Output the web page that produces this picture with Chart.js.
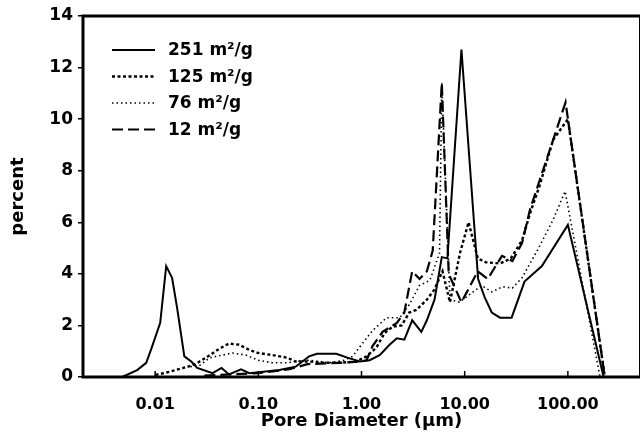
<!DOCTYPE html>
<html>
<head>
<meta charset="utf-8">
<script src="https://cdn.jsdelivr.net/npm/chart.js@4/dist/chart.umd.min.js"></script>
<style>
  body { margin: 0; background: #fff; }
  #wrap { width: 642px; height: 436px; position: relative; }
</style>
</head>
<body>
<div id="wrap"><canvas id="poreChart"></canvas></div>
<script>
// pore size distributions, x = pore diameter (um), y = percent
const seriesLabels = ['251 m\u00B2/g', '125 m\u00B2/g', '76 m\u00B2/g', '12 m\u00B2/g'];

const dia251 = [0.0048, 0.0067, 0.0082, 0.0092, 0.0112, 0.0128, 0.0146, 0.0163, 0.0192, 0.0224, 0.0256, 0.036, 0.044, 0.052, 0.068, 0.082, 0.16, 0.23, 0.31, 0.37, 0.57, 0.73, 0.96, 1.2, 1.5, 1.87, 2.2, 2.6, 3.1, 3.8, 4.3, 5.1, 6.0, 6.8, 9.3, 13.5, 15.6, 18.3, 22, 28.5, 38, 56, 100, 222];
const pct251 = [0, 0.27, 0.55, 1.1, 2.1, 4.3, 3.85, 2.7, 0.8, 0.6, 0.35, 0.15, 0.35, 0.1, 0.3, 0.15, 0.27, 0.4, 0.8, 0.9, 0.9, 0.75, 0.6, 0.65, 0.85, 1.25, 1.5, 1.45, 2.2, 1.75, 2.2, 3.0, 4.65, 4.6, 12.7, 3.8, 3.1, 2.5, 2.3, 2.3, 3.7, 4.3, 5.9, 0];

const dia125 = [0.0101, 0.0137, 0.023, 0.027, 0.034, 0.042, 0.052, 0.065, 0.082, 0.1, 0.137, 0.19, 0.23, 0.31, 0.42, 0.61, 0.89, 1.12, 1.4, 1.67, 2.0, 2.45, 2.9, 3.4, 4.3, 5.1, 6.1, 7.2, 9.0, 10.9, 13.4, 16, 22, 28, 36, 43, 53, 72, 100, 228];
const pct125 = [0.08, 0.2, 0.45, 0.6, 0.85, 1.1, 1.3, 1.25, 1.05, 0.93, 0.85, 0.75, 0.6, 0.6, 0.55, 0.55, 0.6, 0.8, 1.15, 1.7, 1.95, 2.0, 2.5, 2.6, 3.0, 3.4, 4.1, 2.9, 4.8, 6.0, 4.6, 4.45, 4.4, 4.6, 5.3, 6.35, 7.4, 9.2, 10.0, 0];

const dia76 = [0.022, 0.027, 0.034, 0.045, 0.056, 0.076, 0.1, 0.137, 0.19, 0.23, 0.31, 0.49, 0.68, 0.82, 1.02, 1.28, 1.75, 2.35, 2.9, 3.65, 4.6, 5.7, 6.0, 7.2, 8.9, 14.6, 18.3, 23.3, 29, 36, 52, 72, 94, 205];
const pct76 = [0.4, 0.45, 0.75, 0.85, 0.93, 0.85, 0.65, 0.55, 0.55, 0.6, 0.65, 0.55, 0.65, 0.8, 1.3, 1.8, 2.3, 2.3, 2.8, 3.55, 3.75, 4.8, 11.4, 3.0, 2.9, 3.55, 3.3, 3.5, 3.45, 3.85, 5.0, 6.1, 7.2, 0];

const dia12 = [0.03, 0.1, 0.2, 0.3, 0.6, 1.0, 1.12, 1.28, 1.6, 2.2, 2.6, 3.1, 3.65, 4.3, 4.9, 6.0, 7.0, 9.3, 13.4, 16.7, 23, 29, 36, 43, 53, 72, 95, 228];
const pct12 = [0.05, 0.15, 0.3, 0.5, 0.55, 0.6, 0.65, 1.2, 1.75, 2.1, 2.5, 4.1, 3.8, 4.1, 4.9, 11.4, 4.0, 2.9, 4.1, 3.8, 4.7, 4.5, 5.2, 6.5, 7.6, 9.2, 10.65, 0];

const xTicks = [0.01, 0.1, 1, 10, 100];
const yTicks = [0, 2, 4, 6, 8, 10, 12, 14];

function pts(xs, ys) {
    return xs.map((x, i) => ({ x: x, y: ys[i] }));
}

const fam = '"DejaVu Sans", sans-serif';

// frame + inward x ticks + legend inside the plot
const framePlugin = {
    id: 'frame',
    afterDatasetsDraw(chart) {
        const { ctx, chartArea: a, scales } = chart;
        ctx.save();
        ctx.strokeStyle = '#000';
        ctx.lineWidth = 3;
        ctx.beginPath();
        ctx.moveTo(a.right, a.top);
        ctx.lineTo(a.left, a.top);
        ctx.lineTo(a.left, a.bottom);
        ctx.lineTo(a.right, a.bottom);
        ctx.stroke();
        ctx.lineWidth = 1;
        ctx.beginPath();
        ctx.moveTo(a.right - 0.5, a.top);
        ctx.lineTo(a.right - 0.5, a.bottom);
        ctx.stroke();
        ctx.lineWidth = 1.5;
        xTicks.forEach(v => {
            const px = scales.x.getPixelForValue(v);
            ctx.beginPath();
            ctx.moveTo(px, a.bottom);
            ctx.lineTo(px, a.bottom - 6);
            ctx.stroke();
        });
        // legend
        ctx.font = 'bold 17px ' + fam;
        ctx.textBaseline = 'middle';
        ctx.fillStyle = '#000';
        chart.data.datasets.forEach((ds, i) => {
            const y = 50 + i * 26.5;
            ctx.lineWidth = ds.borderWidth;
            ctx.setLineDash(ds.borderDash || []);
            ctx.beginPath();
            ctx.moveTo(112, y);
            ctx.lineTo(155, y);
            ctx.stroke();
            ctx.setLineDash([]);
            ctx.fillText(ds.label, 168, y + 1);
        });
        ctx.restore();
    }
};

const ctx = document.getElementById('poreChart');
new Chart(ctx, {
    type: 'line',
    data: {
        datasets: [{
            label: seriesLabels[0],
            data: pts(dia251, pct251),
            borderColor: '#000',
            borderWidth: 2,
        }, {
            label: seriesLabels[1],
            data: pts(dia125, pct125),
            borderColor: '#000',
            borderWidth: 2.4,
            borderDash: [3, 2.5],
        }, {
            label: seriesLabels[2],
            data: pts(dia76, pct76),
            borderColor: '#000',
            borderWidth: 1.6,
            borderDash: [1.5, 3],
        }, {
            label: seriesLabels[3],
            data: pts(dia12, pct12),
            borderColor: '#000',
            borderWidth: 2.2,
            borderDash: [11, 5],
        }]
    },
    options: {
        responsive: true,
        maintainAspectRatio: false,
        animation: false,
        elements: { point: { radius: 0 }, line: { tension: 0 } },
        layout: { padding: { top: 16, right: 2, left: 0, bottom: 0 } },
        plugins: { legend: { display: false }, tooltip: { enabled: false } },
        scales: {
            x: {
                type: 'logarithmic',
                min: 0.002,
                max: 500,
                afterBuildTicks: s => { s.ticks = xTicks.map(v => ({ value: v })); },
                afterFit: s => { s.height = 59; },
                grid: { display: false },
                border: { display: false },
                ticks: {
                    color: '#000',
                    font: { size: 16, weight: 'bold', family: fam },
                    padding: 10,
                    maxRotation: 0,
                    autoSkip: false,
                    callback: v => Number(v).toFixed(2)
                },
                title: {
                    display: true,
                    text: 'Pore Diameter (\u03BCm)',
                    color: '#000',
                    font: { size: 18, weight: 'bold', family: fam },
                    padding: { top: 3 }
                }
            },
            y: {
                min: 0,
                max: 14,
                afterBuildTicks: s => { s.ticks = yTicks.map(v => ({ value: v })); },
                afterFit: s => { s.width = 83; },
                grid: { drawOnChartArea: false, drawTicks: true, tickLength: 5, color: '#000', lineWidth: 1.5 },
                border: { display: false },
                ticks: { color: '#000', font: { size: 17, weight: 'bold', family: fam }, padding: 5 },
                title: {
                    display: true,
                    text: 'percent',
                    color: '#000',
                    font: { size: 18, weight: 'bold', family: fam },
                    padding: { top: 8, bottom: 0 }
                }
            }
        }
    },
    plugins: [framePlugin]
});
</script>
</body>
</html>
